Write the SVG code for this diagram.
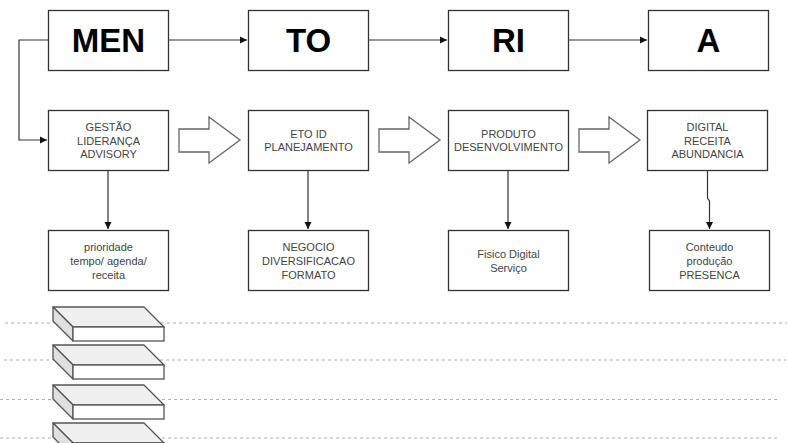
<svg xmlns="http://www.w3.org/2000/svg" width="788" height="443" viewBox="0 0 788 443">
<style>
.box{fill:#fff;stroke:#333;stroke-width:1.3}
.big{font-family:"Liberation Sans",Arial,sans-serif;font-weight:bold;font-size:33px;fill:#000;text-anchor:middle}
.sm{font-family:"Liberation Sans",Arial,sans-serif;font-size:11px;fill:#444;text-anchor:middle}
.con{fill:none;stroke:#333;stroke-width:1.2}
.barrow{fill:#fff;stroke:#666;stroke-width:1.3}
.dot{stroke:#b0b0b0;stroke-width:1.1;stroke-dasharray:3 3;fill:none}
.top{fill:#f0f0f0;stroke:#555;stroke-width:1.3;stroke-linejoin:round}
.side{fill:#e0e0e0;stroke:#555;stroke-width:1.3;stroke-linejoin:round}
.front{fill:#fff;stroke:#555;stroke-width:1.3}
</style>
<defs>
<marker id="ah" markerWidth="8" markerHeight="8" refX="7" refY="4" orient="auto" markerUnits="userSpaceOnUse">
<path d="M0,0.5 L7,4 L0,7.5 Z" fill="#111"/>
</marker>
</defs>

<g id="dotted-lines">
<path class="dot" d="M5,323 H787"/>
<path class="dot" d="M4,360 H786"/>
<path class="dot" d="M0,399.5 H780"/>
<path class="dot" d="M0,438 H780"/>
</g>

<g id="connectors">
<path class="con" d="M168,40 H247" marker-end="url(#ah)"/>
<path class="con" d="M368,40 H447" marker-end="url(#ah)"/>
<path class="con" d="M568,40 H647" marker-end="url(#ah)"/>
<path class="con" d="M48,40 H19 V140 H47" marker-end="url(#ah)"/>
<path class="con" d="M108,170 V229" marker-end="url(#ah)"/>
<path class="con" d="M308,170 V229" marker-end="url(#ah)"/>
<path class="con" d="M508,170 V229" marker-end="url(#ah)"/>
<path class="con" d="M707.5,170 V198 L709.5,201 V229" marker-end="url(#ah)"/>
</g>

<g id="block-arrows">
<path class="barrow" d="M179,129 H209 V117 L240,140 L209,163 V152 H179 Z"/>
<path class="barrow" d="M379,129 H409 V117 L440,140 L409,163 V152 H379 Z"/>
<path class="barrow" d="M579,129 H609 V117 L640,140 L609,163 V152 H579 Z"/>
</g>

<g id="node-men"><rect class="box" x="48.5" y="10.5" width="120" height="60"/><text class="big" x="108.5" y="52">MEN</text></g>
<g id="node-to"><rect class="box" x="248.5" y="10.5" width="120" height="60"/><text class="big" x="308.5" y="52">TO</text></g>
<g id="node-ri"><rect class="box" x="448.5" y="10.5" width="120" height="60"/><text class="big" x="508.5" y="52">RI</text></g>
<g id="node-a"><rect class="box" x="648.5" y="10.5" width="120" height="60"/><text class="big" x="708.5" y="52">A</text></g>

<g id="node-gestao"><rect class="box" x="48.5" y="110.5" width="120" height="60"/>
<text class="sm" x="108.5" y="131">GESTÃO</text><text class="sm" x="108.5" y="144.5">LIDERANÇA</text><text class="sm" x="108.5" y="158">ADVISORY</text></g>
<g id="node-eto"><rect class="box" x="248.5" y="110.5" width="120" height="60"/>
<text class="sm" x="308.5" y="137.5">ETO ID</text><text class="sm" x="308.5" y="151">PLANEJAMENTO</text></g>
<g id="node-produto"><rect class="box" x="448.5" y="110.5" width="120" height="60"/>
<text class="sm" x="508.5" y="137.5">PRODUTO</text><text class="sm" x="508.5" y="151">DESENVOLVIMENTO</text></g>
<g id="node-digital"><rect class="box" x="647.5" y="110.5" width="120" height="60"/>
<text class="sm" x="707.5" y="131">DIGITAL</text><text class="sm" x="707.5" y="144.5">RECEITA</text><text class="sm" x="707.5" y="158">ABUNDANCIA</text></g>

<g id="node-prioridade"><rect class="box" x="48.5" y="230.5" width="120" height="60"/>
<text class="sm" x="108.5" y="251">prioridade</text><text class="sm" x="108.5" y="265">tempo/ agenda/</text><text class="sm" x="108.5" y="279">receita</text></g>
<g id="node-negocio"><rect class="box" x="248.5" y="230.5" width="120" height="60"/>
<text class="sm" x="308.5" y="251">NEGOCIO</text><text class="sm" x="308.5" y="265">DIVERSIFICACAO</text><text class="sm" x="308.5" y="279">FORMATO</text></g>
<g id="node-fisico"><rect class="box" x="448.5" y="230.5" width="120" height="60"/>
<text class="sm" x="508.5" y="258">Fisico Digital</text><text class="sm" x="508.5" y="272">Serviço</text></g>
<g id="node-conteudo"><rect class="box" x="649.5" y="230.5" width="120" height="60"/>
<text class="sm" x="709.5" y="251">Conteudo</text><text class="sm" x="709.5" y="265">produção</text><text class="sm" x="709.5" y="279">PRESENCA</text></g>

<g id="block-1">
<path class="top" d="M53,307 H144 L164,327 H73 Z"/>
<path class="side" d="M53,307 L73,327 V341 L53,321 Z"/>
<rect class="front" x="73" y="327" width="91" height="14"/>
</g>
<g id="block-2" transform="translate(0,38)">
<path class="top" d="M53,307 H144 L164,327 H73 Z"/>
<path class="side" d="M53,307 L73,327 V341 L53,321 Z"/>
<rect class="front" x="73" y="327" width="91" height="14"/>
</g>
<g id="block-3" transform="translate(0,78)">
<path class="top" d="M53,307 H144 L164,327 H73 Z"/>
<path class="side" d="M53,307 L73,327 V341 L53,321 Z"/>
<rect class="front" x="73" y="327" width="91" height="14"/>
</g>
<g id="block-4" transform="translate(0,116)">
<path class="top" d="M53,307 H144 L164,327 H73 Z"/>
<path class="side" d="M53,307 L73,327 V341 L53,321 Z"/>
<rect class="front" x="73" y="327" width="91" height="14"/>
</g>
</svg>
